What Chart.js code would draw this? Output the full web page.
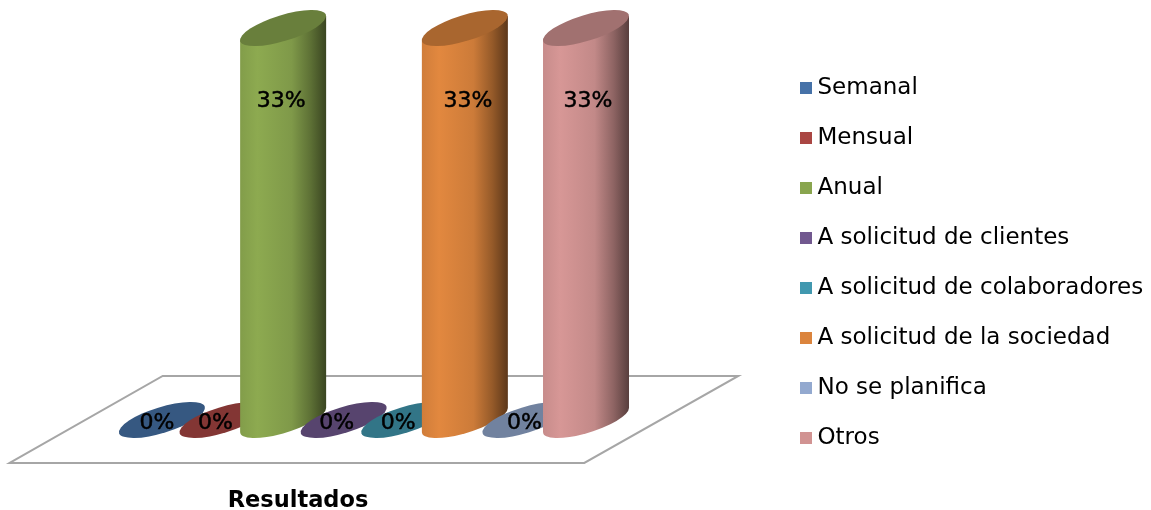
<!DOCTYPE html>
<html>
<head>
<meta charset="utf-8">
<script src="https://cdn.jsdelivr.net/npm/chart.js@4/dist/chart.umd.min.js"></script>
<style>
  html,body{margin:0;padding:0;background:#fff}
  #wrap{width:1151px;height:510px}
</style>
</head>
<body>
<div id="wrap"><canvas id="grafico"></canvas></div>
<script>
const categorias = ['Semanal','Mensual','Anual','A solicitud de clientes','A solicitud de colaboradores','A solicitud de la sociedad','No se planifica','Otros']
const valores = [0,0,33,0,0,33,0,33]
const colores = ['#4672A8','#AA4643','#89A54E','#71588F','#4198AF','#DB843D','#93A9CF','#D19392']

const fuente = 'DejaVu Sans'
// the percent labels are not quite centred on the bars in the original
const corrimiento = [-5,-7,-2,-7,-6,3,-1,2]

function oscurecer(hex,f){
  const n = parseInt(hex.slice(1),16)
  return 'rgb(' + Math.round((n>>16)*f) + ',' + Math.round(((n>>8)&255)*f) + ',' + Math.round((n&255)*f) + ')'
}

// small square used as legend marker, lets the text sit closer than boxWidth would
function cuadrito(color){
  const c = document.createElement('canvas')
  c.width = 12
  c.height = 12
  const g = c.getContext('2d')
  g.fillStyle = color
  g.fillRect(0,0,12,12)
  return c
}

// tilted ellipse of the cylinder ends
const GIRO = -0.298
const RADIO_A = 0.521
const RADIO_B = 0.150
function elipse(ctx,x,y,w,desde,hasta){
  ctx.ellipse(x,y,w*RADIO_A,w*RADIO_B,GIRO,desde,hasta)
}

function cilindro(ctx,bar,color){
  const w = bar.width
  const a = w*RADIO_A, b = w*RADIO_B
  const t = Math.atan2(-b*Math.sin(GIRO),a*Math.cos(GIRO))
  if(bar.base-bar.y > 1){
    const dx = a*Math.cos(t)*Math.cos(GIRO)-b*Math.sin(t)*Math.sin(GIRO)
    const dy = a*Math.cos(t)*Math.sin(GIRO)+b*Math.sin(t)*Math.cos(GIRO)
    const grad = ctx.createLinearGradient(bar.x-dx,0,bar.x+dx,0)
    grad.addColorStop(0,oscurecer(color,0.95))
    grad.addColorStop(0.2,oscurecer(color,1.03))
    grad.addColorStop(0.6,oscurecer(color,0.93))
    grad.addColorStop(0.82,oscurecer(color,0.68))
    grad.addColorStop(1,oscurecer(color,0.42))
    ctx.beginPath()
    ctx.moveTo(bar.x+dx,bar.y+dy)
    elipse(ctx,bar.x,bar.base,w,t,t+Math.PI)
    ctx.lineTo(bar.x-dx,bar.y-dy)
    ctx.closePath()
    ctx.fillStyle = grad
    ctx.fill()
  }
  ctx.beginPath()
  elipse(ctx,bar.x,bar.y,w,0,Math.PI*2)
  ctx.fillStyle = oscurecer(color,0.77)
  ctx.fill()
}

const plugin3d = {
  id:'plugin3d',
  afterLayout(chart){
    // legend sits far from the plot
    chart.legend.left = 778
    chart.legend.right = 1151
    chart.legend.top = 16
    chart.legend.bottom = 510
  },
  beforeDatasetsDraw(chart){
    const ctx = chart.ctx
    const area = chart.chartArea
    const y0 = chart.scales.y.getPixelForValue(0)
    ctx.save()
    ctx.beginPath()
    ctx.moveTo(area.left-122,y0+43)
    ctx.lineTo(area.left+31,y0-44)
    ctx.lineTo(area.right+122,y0-44)
    ctx.lineTo(area.right-32,y0+43)
    ctx.closePath()
    ctx.strokeStyle = '#a6a6a6'
    ctx.lineWidth = 2
    ctx.stroke()
    ctx.restore()
  },
  beforeDatasetDraw(chart,args){
    const ctx = chart.ctx
    ctx.save()
    args.meta.data.forEach((bar,i)=>cilindro(ctx,bar,colores[i]))
    ctx.restore()
    return false
  },
  afterDatasetsDraw(chart){
    const ctx = chart.ctx
    ctx.save()
    ctx.fillStyle = '#000'
    ctx.strokeStyle = '#000'
    ctx.lineWidth = 0.5
    ctx.textAlign = 'center'
    ctx.textBaseline = 'middle'
    ctx.font = '22px "' + fuente + '"'
    chart.getDatasetMeta(0).data.forEach((bar,i)=>{
      const tx = bar.x+corrimiento[i]
      const ty = valores[i] > 0 ? bar.y+73.5 : bar.y+3
      ctx.fillText(valores[i]+'%',tx,ty)
      ctx.strokeText(valores[i]+'%',tx,ty)
    })
    // axis title
    ctx.font = 'bold 22.5px "' + fuente + '"'
    ctx.textBaseline = 'alphabetic'
    ctx.fillText('Resultados',298,507)
    ctx.restore()
  }
}

new Chart(document.getElementById('grafico').getContext('2d'),{
  type:'bar',
  data:{
    labels:categorias,
    datasets:[{
      label:'Resultados',
      data:valores,
      backgroundColor:colores,
      barThickness:86
    }]
  },
  options:{
    responsive:true,
    maintainAspectRatio:false,
    animation:false,
    layout:{padding:{left:131.7,right:533.7}},
    plugins:{
      title:{display:false},
      tooltip:{enabled:false},
      legend:{
        position:'right',
        maxWidth:1,
        labels:{
          color:'#000',
          font:{family:fuente,size:23},
          padding:27,
          usePointStyle:true,
          pointStyleWidth:1,
          generateLabels(){
            return categorias.map((c,i)=>({
              text:c,
              fillStyle:colores[i],
              strokeStyle:colores[i],
              lineWidth:0,
              pointStyle:cuadrito(colores[i]),
              index:i
            }))
          }
        }
      }
    },
    scales:{
      x:{display:false,grid:{display:false}},
      y:{display:false,min:-7.58,max:35.36,grid:{display:false}}
    }
  },
  plugins:[plugin3d]
})
</script>
</body>
</html>
